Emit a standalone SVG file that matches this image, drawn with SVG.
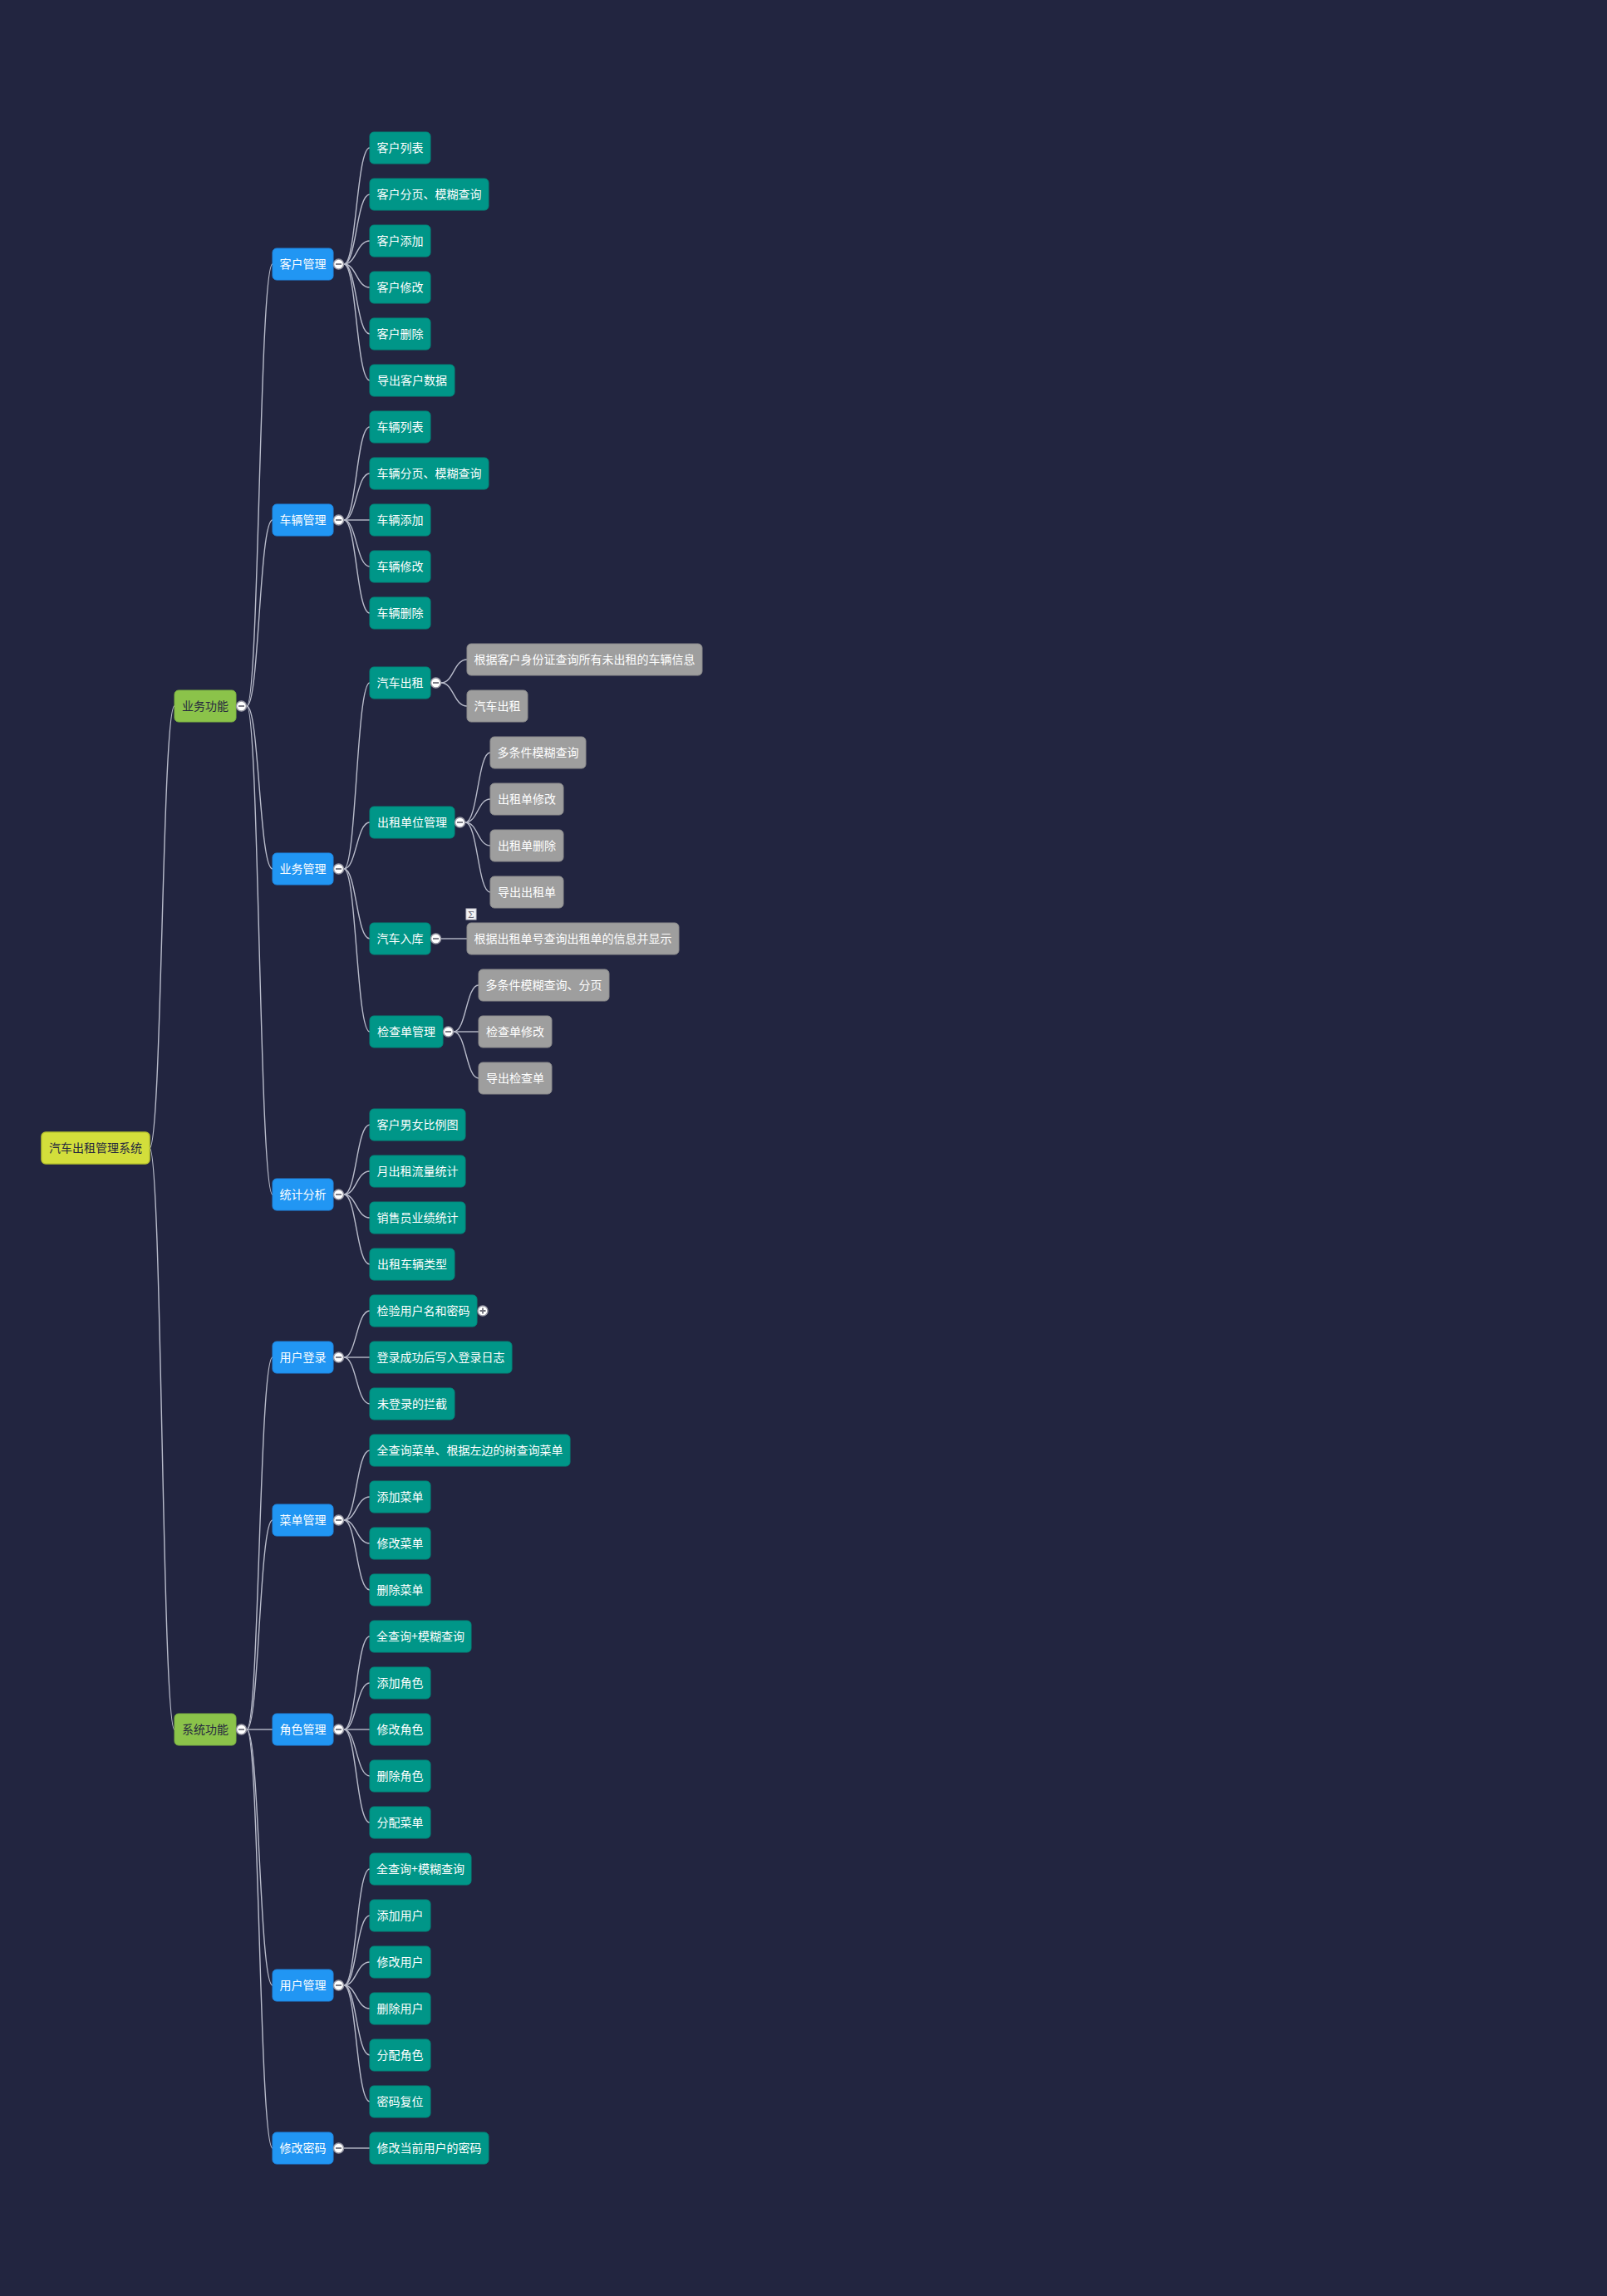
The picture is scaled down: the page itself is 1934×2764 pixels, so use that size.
<svg xmlns="http://www.w3.org/2000/svg" xmlns:xlink="http://www.w3.org/1999/xlink" width="1934" height="2764" viewBox="0 0 1934 2764">
<style>
.t{font-family:"Noto Sans CJK SC","Noto Sans",sans-serif;font-size:14px;text-anchor:middle}
.root rect{fill:#d3de3b;stroke:#bcc72e;stroke-width:1.5}
.l1 rect{fill:#8bc34a;stroke:#7cb342;stroke-width:1}
.root text,.l1 text{fill:#26283f}
.l2 rect{fill:#2196f3;stroke:#1e88e5;stroke-width:1}
.l3 rect{fill:#009688;stroke:#00897b;stroke-width:1}
.l4 rect{fill:#9e9e9e;stroke:#8c8c8c;stroke-width:1}
.l2 text,.l3 text,.l4 text{fill:#ffffff}
#links path{fill:none;stroke:#b9bccb;stroke-width:1.4}
.tg circle{fill:#ffffff;stroke:#9a9aa6;stroke-width:1.5}
.tg path{stroke:#6f6f7a;stroke-width:1.8;fill:none}
</style>
<defs>
<g id="tm" class="tg"><circle r="6" cx="0" cy="0"/><path d="M-3.5 0H3.5"/></g>
<g id="tp" class="tg"><circle r="6" cx="0" cy="0"/><path d="M-3.5 0H3.5M0 -3.5V3.5"/></g>
</defs>
<rect x="0" y="0" width="1934" height="2764" fill="#222540"/>

<g id="links">
<!-- root -->
<path d="M180 1382C195 1382 195 850 210 850"/>
<path d="M180 1382C195 1382 195 2082 210 2082"/>
<!-- 业务功能 -->
<path d="M297 850C312 850 312 318 328 318"/>
<path d="M297 850C312 850 312 626 328 626"/>
<path d="M297 850C312 850 312 1046 328 1046"/>
<path d="M297 850C312 850 312 1438 328 1438"/>
<!-- 系统功能 -->
<path d="M297 2082C312 2082 312 1634 328 1634"/>
<path d="M297 2082C312 2082 312 1830 328 1830"/>
<path d="M297 2082C312 2082 312 2082 328 2082"/>
<path d="M297 2082C312 2082 312 2390 328 2390"/>
<path d="M297 2082C312 2082 312 2586 328 2586"/>
<!-- 客户管理 -->
<path d="M414 318C429 318 429 178 445 178"/>
<path d="M414 318C429 318 429 234 445 234"/>
<path d="M414 318C429 318 429 290 445 290"/>
<path d="M414 318C429 318 429 346 445 346"/>
<path d="M414 318C429 318 429 402 445 402"/>
<path d="M414 318C429 318 429 458 445 458"/>
<!-- 车辆管理 -->
<path d="M414 626C429 626 429 514 445 514"/>
<path d="M414 626C429 626 429 570 445 570"/>
<path d="M414 626C429 626 429 626 445 626"/>
<path d="M414 626C429 626 429 682 445 682"/>
<path d="M414 626C429 626 429 738 445 738"/>
<!-- 业务管理 -->
<path d="M414 1046C429 1046 429 822 445 822"/>
<path d="M414 1046C429 1046 429 990 445 990"/>
<path d="M414 1046C429 1046 429 1130 445 1130"/>
<path d="M414 1046C429 1046 429 1242 445 1242"/>
<!-- 汽车出租 -->
<path d="M531 822C546 822 546 794 562 794"/>
<path d="M531 822C546 822 546 850 562 850"/>
<!-- 出租单位管理 -->
<path d="M560 990C575 990 575 906 590 906"/>
<path d="M560 990C575 990 575 962 590 962"/>
<path d="M560 990C575 990 575 1018 590 1018"/>
<path d="M560 990C575 990 575 1074 590 1074"/>
<!-- 汽车入库 -->
<path d="M531 1130C546 1130 546 1130 562 1130"/>
<!-- 检查单管理 -->
<path d="M546 1242C561 1242 561 1186 576 1186"/>
<path d="M546 1242C561 1242 561 1242 576 1242"/>
<path d="M546 1242C561 1242 561 1298 576 1298"/>
<!-- 统计分析 -->
<path d="M414 1438C429 1438 429 1354 445 1354"/>
<path d="M414 1438C429 1438 429 1410 445 1410"/>
<path d="M414 1438C429 1438 429 1466 445 1466"/>
<path d="M414 1438C429 1438 429 1522 445 1522"/>
<!-- 用户登录 -->
<path d="M414 1634C429 1634 429 1578 445 1578"/>
<path d="M414 1634C429 1634 429 1634 445 1634"/>
<path d="M414 1634C429 1634 429 1690 445 1690"/>
<!-- 菜单管理 -->
<path d="M414 1830C429 1830 429 1746 445 1746"/>
<path d="M414 1830C429 1830 429 1802 445 1802"/>
<path d="M414 1830C429 1830 429 1858 445 1858"/>
<path d="M414 1830C429 1830 429 1914 445 1914"/>
<!-- 角色管理 -->
<path d="M414 2082C429 2082 429 1970 445 1970"/>
<path d="M414 2082C429 2082 429 2026 445 2026"/>
<path d="M414 2082C429 2082 429 2082 445 2082"/>
<path d="M414 2082C429 2082 429 2138 445 2138"/>
<path d="M414 2082C429 2082 429 2194 445 2194"/>
<!-- 用户管理 -->
<path d="M414 2390C429 2390 429 2250 445 2250"/>
<path d="M414 2390C429 2390 429 2306 445 2306"/>
<path d="M414 2390C429 2390 429 2362 445 2362"/>
<path d="M414 2390C429 2390 429 2418 445 2418"/>
<path d="M414 2390C429 2390 429 2474 445 2474"/>
<path d="M414 2390C429 2390 429 2530 445 2530"/>
<!-- 修改密码 -->
<path d="M414 2586C429 2586 429 2586 445 2586"/>
</g>

<!-- root -->
<g id="root" class="root"><rect x="50" y="1363" width="130" height="38" rx="5"/><text class="t" x="115" y="1387">汽车出租管理系统</text></g>

<!-- level 1 -->
<g id="yewugongneng" class="l1"><rect x="210" y="831" width="74" height="38" rx="5"/><text class="t" x="247" y="855">业务功能</text><use xlink:href="#tm" x="290.5" y="850"/></g>
<g id="xitonggongneng" class="l1"><rect x="210" y="2063" width="74" height="38" rx="5"/><text class="t" x="247" y="2087">系统功能</text><use xlink:href="#tm" x="290.5" y="2082"/></g>

<!-- level 2 -->
<g id="kehuguanli" class="l2"><rect x="328" y="299" width="73" height="38" rx="5"/><text class="t" x="364.5" y="323">客户管理</text><use xlink:href="#tm" x="407.5" y="318"/></g>
<g id="cheliangguanli" class="l2"><rect x="328" y="607" width="73" height="38" rx="5"/><text class="t" x="364.5" y="631">车辆管理</text><use xlink:href="#tm" x="407.5" y="626"/></g>
<g id="yewuguanli" class="l2"><rect x="328" y="1027" width="73" height="38" rx="5"/><text class="t" x="364.5" y="1051">业务管理</text><use xlink:href="#tm" x="407.5" y="1046"/></g>
<g id="tongjifenxi" class="l2"><rect x="328" y="1419" width="73" height="38" rx="5"/><text class="t" x="364.5" y="1443">统计分析</text><use xlink:href="#tm" x="407.5" y="1438"/></g>
<g id="yonghudenglu" class="l2"><rect x="328" y="1615" width="73" height="38" rx="5"/><text class="t" x="364.5" y="1639">用户登录</text><use xlink:href="#tm" x="407.5" y="1634"/></g>
<g id="caidanguanli" class="l2"><rect x="328" y="1811" width="73" height="38" rx="5"/><text class="t" x="364.5" y="1835">菜单管理</text><use xlink:href="#tm" x="407.5" y="1830"/></g>
<g id="jueseguanli" class="l2"><rect x="328" y="2063" width="73" height="38" rx="5"/><text class="t" x="364.5" y="2087">角色管理</text><use xlink:href="#tm" x="407.5" y="2082"/></g>
<g id="yonghuguanli" class="l2"><rect x="328" y="2371" width="73" height="38" rx="5"/><text class="t" x="364.5" y="2395">用户管理</text><use xlink:href="#tm" x="407.5" y="2390"/></g>
<g id="xiugaimima" class="l2"><rect x="328" y="2567" width="73" height="38" rx="5"/><text class="t" x="364.5" y="2591">修改密码</text><use xlink:href="#tm" x="407.5" y="2586"/></g>

<!-- level 3: 客户管理 -->
<g id="n0" class="l3"><rect x="445" y="159" width="73" height="38" rx="5"/><text class="t" x="481.5" y="183">客户列表</text></g>
<g id="n1" class="l3"><rect x="445" y="215" width="143" height="38" rx="5"/><text class="t" x="516.5" y="239">客户分页、模糊查询</text></g>
<g id="n2" class="l3"><rect x="445" y="271" width="73" height="38" rx="5"/><text class="t" x="481.5" y="295">客户添加</text></g>
<g id="n3" class="l3"><rect x="445" y="327" width="73" height="38" rx="5"/><text class="t" x="481.5" y="351">客户修改</text></g>
<g id="n4" class="l3"><rect x="445" y="383" width="73" height="38" rx="5"/><text class="t" x="481.5" y="407">客户删除</text></g>
<g id="n5" class="l3"><rect x="445" y="439" width="102" height="38" rx="5"/><text class="t" x="496" y="463">导出客户数据</text></g>
<!-- 车辆管理 -->
<g id="n6" class="l3"><rect x="445" y="495" width="73" height="38" rx="5"/><text class="t" x="481.5" y="519">车辆列表</text></g>
<g id="n7" class="l3"><rect x="445" y="551" width="143" height="38" rx="5"/><text class="t" x="516.5" y="575">车辆分页、模糊查询</text></g>
<g id="n8" class="l3"><rect x="445" y="607" width="73" height="38" rx="5"/><text class="t" x="481.5" y="631">车辆添加</text></g>
<g id="n9" class="l3"><rect x="445" y="663" width="73" height="38" rx="5"/><text class="t" x="481.5" y="687">车辆修改</text></g>
<g id="n10" class="l3"><rect x="445" y="719" width="73" height="38" rx="5"/><text class="t" x="481.5" y="743">车辆删除</text></g>
<!-- 业务管理 -->
<g id="qichechuzu" class="l3"><rect x="445" y="803" width="73" height="38" rx="5"/><text class="t" x="481.5" y="827">汽车出租</text><use xlink:href="#tm" x="524.5" y="822"/></g>
<g id="chuzudanwei" class="l3"><rect x="445" y="971" width="102" height="38" rx="5"/><text class="t" x="496" y="995">出租单位管理</text><use xlink:href="#tm" x="553.5" y="990"/></g>
<g id="qicheruku" class="l3"><rect x="445" y="1111" width="73" height="38" rx="5"/><text class="t" x="481.5" y="1135">汽车入库</text><use xlink:href="#tm" x="524.5" y="1130"/></g>
<g id="jianchadan" class="l3"><rect x="445" y="1223" width="88" height="38" rx="5"/><text class="t" x="489" y="1247">检查单管理</text><use xlink:href="#tm" x="539.5" y="1242"/></g>
<!-- level 4 -->
<g id="n11" class="l4"><rect x="562" y="775" width="283" height="38" rx="5"/><text class="t" x="703.5" y="799">根据客户身份证查询所有未出租的车辆信息</text></g>
<g id="n12" class="l4"><rect x="562" y="831" width="73" height="38" rx="5"/><text class="t" x="598.5" y="855">汽车出租</text></g>
<g id="n13" class="l4"><rect x="590" y="887" width="115" height="38" rx="5"/><text class="t" x="647.5" y="911">多条件模糊查询</text></g>
<g id="n14" class="l4"><rect x="590" y="943" width="88" height="38" rx="5"/><text class="t" x="634" y="967">出租单修改</text></g>
<g id="n15" class="l4"><rect x="590" y="999" width="88" height="38" rx="5"/><text class="t" x="634" y="1023">出租单删除</text></g>
<g id="n16" class="l4"><rect x="590" y="1055" width="88" height="38" rx="5"/><text class="t" x="634" y="1079">导出出租单</text></g>
<g id="sigma"><rect x="561" y="1094" width="12" height="13" fill="#f2f2f4" stroke="#c9c9d2" stroke-width="1"/><text x="567" y="1105" font-family="'DejaVu Serif',serif" font-size="11" fill="#6b6b78" text-anchor="middle">Σ</text></g>
<g id="n17" class="l4"><rect x="562" y="1111" width="255" height="38" rx="5"/><text class="t" x="689.5" y="1135">根据出租单号查询出租单的信息并显示</text></g>
<g id="n18" class="l4"><rect x="576" y="1167" width="157" height="38" rx="5"/><text class="t" x="654.5" y="1191">多条件模糊查询、分页</text></g>
<g id="n19" class="l4"><rect x="576" y="1223" width="88" height="38" rx="5"/><text class="t" x="620" y="1247">检查单修改</text></g>
<g id="n20" class="l4"><rect x="576" y="1279" width="88" height="38" rx="5"/><text class="t" x="620" y="1303">导出检查单</text></g>
<!-- 统计分析 -->
<g id="n21" class="l3"><rect x="445" y="1335" width="115" height="38" rx="5"/><text class="t" x="502.5" y="1359">客户男女比例图</text></g>
<g id="n22" class="l3"><rect x="445" y="1391" width="115" height="38" rx="5"/><text class="t" x="502.5" y="1415">月出租流量统计</text></g>
<g id="n23" class="l3"><rect x="445" y="1447" width="115" height="38" rx="5"/><text class="t" x="502.5" y="1471">销售员业绩统计</text></g>
<g id="n24" class="l3"><rect x="445" y="1503" width="102" height="38" rx="5"/><text class="t" x="496" y="1527">出租车辆类型</text></g>
<!-- 用户登录 -->
<g id="n25" class="l3"><rect x="445" y="1559" width="129" height="38" rx="5"/><text class="t" x="509.5" y="1583">检验用户名和密码</text><use xlink:href="#tp" x="581" y="1578"/></g>
<g id="n26" class="l3"><rect x="445" y="1615" width="171" height="38" rx="5"/><text class="t" x="530.5" y="1639">登录成功后写入登录日志</text></g>
<g id="n27" class="l3"><rect x="445" y="1671" width="102" height="38" rx="5"/><text class="t" x="496" y="1695">未登录的拦截</text></g>
<!-- 菜单管理 -->
<g id="n28" class="l3"><rect x="445" y="1727" width="241" height="38" rx="5"/><text class="t" x="565.5" y="1751">全查询菜单、根据左边的树查询菜单</text></g>
<g id="n29" class="l3"><rect x="445" y="1783" width="73" height="38" rx="5"/><text class="t" x="481.5" y="1807">添加菜单</text></g>
<g id="n30" class="l3"><rect x="445" y="1839" width="73" height="38" rx="5"/><text class="t" x="481.5" y="1863">修改菜单</text></g>
<g id="n31" class="l3"><rect x="445" y="1895" width="73" height="38" rx="5"/><text class="t" x="481.5" y="1919">删除菜单</text></g>
<!-- 角色管理 -->
<g id="n32" class="l3"><rect x="445" y="1951" width="122" height="38" rx="5"/><text class="t" x="506" y="1975">全查询+模糊查询</text></g>
<g id="n33" class="l3"><rect x="445" y="2007" width="73" height="38" rx="5"/><text class="t" x="481.5" y="2031">添加角色</text></g>
<g id="n34" class="l3"><rect x="445" y="2063" width="73" height="38" rx="5"/><text class="t" x="481.5" y="2087">修改角色</text></g>
<g id="n35" class="l3"><rect x="445" y="2119" width="73" height="38" rx="5"/><text class="t" x="481.5" y="2143">删除角色</text></g>
<g id="n36" class="l3"><rect x="445" y="2175" width="73" height="38" rx="5"/><text class="t" x="481.5" y="2199">分配菜单</text></g>
<!-- 用户管理 -->
<g id="n37" class="l3"><rect x="445" y="2231" width="122" height="38" rx="5"/><text class="t" x="506" y="2255">全查询+模糊查询</text></g>
<g id="n38" class="l3"><rect x="445" y="2287" width="73" height="38" rx="5"/><text class="t" x="481.5" y="2311">添加用户</text></g>
<g id="n39" class="l3"><rect x="445" y="2343" width="73" height="38" rx="5"/><text class="t" x="481.5" y="2367">修改用户</text></g>
<g id="n40" class="l3"><rect x="445" y="2399" width="73" height="38" rx="5"/><text class="t" x="481.5" y="2423">删除用户</text></g>
<g id="n41" class="l3"><rect x="445" y="2455" width="73" height="38" rx="5"/><text class="t" x="481.5" y="2479">分配角色</text></g>
<g id="n42" class="l3"><rect x="445" y="2511" width="73" height="38" rx="5"/><text class="t" x="481.5" y="2535">密码复位</text></g>
<!-- 修改密码 -->
<g id="n43" class="l3"><rect x="445" y="2567" width="143" height="38" rx="5"/><text class="t" x="516.5" y="2591">修改当前用户的密码</text></g>
</svg>
